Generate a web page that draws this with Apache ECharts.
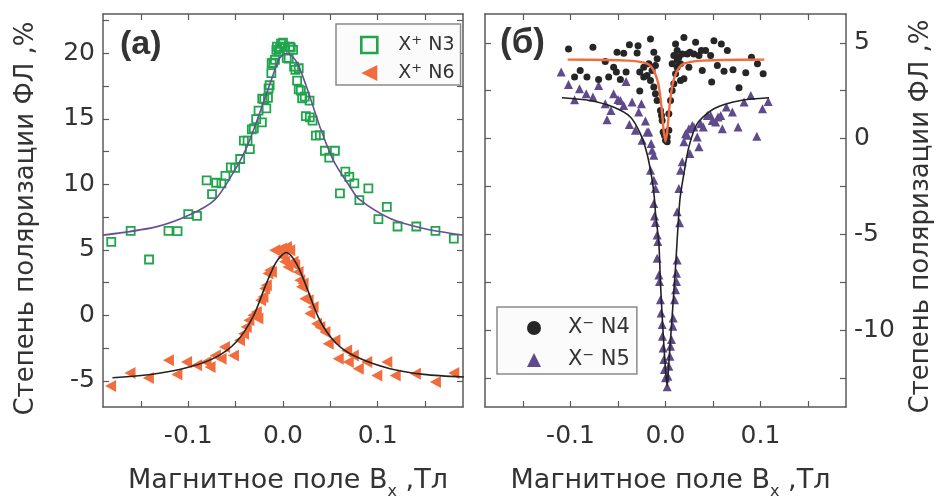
<!DOCTYPE html>
<html>
<head>
<meta charset="utf-8">
<script src="https://cdn.jsdelivr.net/npm/echarts@6/dist/echarts.min.js"></script>
<style>html,body{margin:0;padding:0;background:#fff}#c{width:937px;height:499px}</style>
</head>
<body>
<div id="c"></div>
<script>
// ---- tick values ----
const xTicks = [-0.15, -0.1, -0.05, 0, 0.05, 0.1, 0.15];
const xLabels = [-0.1, 0, 0.1];
const leftYTicks = [-5, -2.5, 0, 2.5, 5, 7.5, 10, 12.5, 15, 17.5, 20, 22.5];
const leftYLabels = [-5, 0, 5, 10, 15, 20];
const rightYTicks = [-12.5, -10, -7.5, -5, -2.5, 0, 2.5, 5];
const rightYLabels = [-10, -5, 0, 5];

// ---- panel (a): X+ N3 (squares) ----
const n3Points = [
  [-0.1813,5.60],[-0.1608,6.45],[-0.1414,4.26],[-0.1209,6.45],[-0.1113,6.42],[-0.1,7.72],[-0.0908,7.59],
  [-0.0806,10.30],[-0.0749,9.25],[-0.0706,10.12],[-0.065,10.07],[-0.0608,10.65],[-0.0551,11.29],[-0.0505,11.26],
  [-0.0452,11.93],[-0.0413,13.33],[-0.0374,13.33],[-0.035,12.69],[-0.0329,14.19],[-0.0308,14.27],[-0.0283,14.98],
  [-0.0258,15.62],[-0.0223,14.73],[-0.0219,16.54],[-0.0198,16.51],[-0.0176,15.80],[-0.0159,16.59],[-0.0152,17.33],
  [-0.0141,17.56],[-0.0123,18.48],[-0.012,19.24],[-0.0102,19.29],[-0.0085,19.50],[-0.007,20.26],[-0.0064,20.51],
  [-0.0046,20.13],[-0.0032,20.39],[-0.0021,20.74],[0.0,20.82],[0.0018,20.51],[0.0039,19.65],[0.006,19.60],
  [0.0071,20.51],[0.0082,20.44],[0.0106,20.26],[0.0117,18.98],[0.0131,18.73],[0.0166,18.86],[0.0149,17.91],
  [0.0166,17.25],[0.0188,17.15],[0.0202,16.57],[0.023,16.69],[0.028,16.38],[0.0241,15.21],[0.0283,15.11],
  [0.0312,14.86],[0.0347,13.71],[0.0389,13.76],[0.0442,12.56],[0.0488,12.03],[0.0548,12.56],[0.0601,9.30],
  [0.0658,10.96],[0.07,10.57],[0.0753,10.07],[0.0806,8.79],[0.0901,9.69],[0.1007,7.34],[0.1096,8.28],
  [0.1209,6.78],[0.1407,6.78],[0.1609,6.45],[0.1803,5.86]
];
const n3Fit = [
  [-0.19,6.12],[-0.134,6.75],[-0.099,7.65],[-0.0724,8.79],[-0.053,10.83],[-0.0388,12.74],[-0.0247,15.42],
  [-0.0123,17.97],[-0.0035,19.63],[0.0042,20.0],[0.0142,19.37],[0.0248,17.45],[0.0389,14.4],[0.053,11.85],
  [0.0707,9.81],[0.0806,8.84],[0.1131,7.39],[0.1485,6.63],[0.19,6.12]
];

// ---- panel (a): X+ N6 (left triangles) ----
const n6Points = [
  [-0.182,-5.40],[-0.1615,-4.41],[-0.1421,-4.79],[-0.1209,-3.44],[-0.112,-4.51],[-0.1018,-3.57],[-0.0912,-3.82],
  [-0.0812,-3.57],[-0.077,-3.95],[-0.0714,-3.06],[-0.0653,-3.31],[-0.0618,-2.42],[-0.0523,-3.06],[-0.0459,-1.91],
  [-0.0417,-1.40],[-0.0388,-0.89],[-0.036,-0.38],[-0.0318,0.0],[-0.0282,0.25],[-0.0265,-0.25],[-0.0236,1.15],
  [-0.0212,1.40],[-0.0194,2.04],[-0.0176,2.29],[-0.0159,3.19],[-0.0141,3.44],[-0.0123,3.31],[-0.0088,4.97],
  [-0.0053,4.97],[-0.0017,5.10],[0.0,4.46],[0.0018,4.08],[0.0036,5.22],[0.0053,3.69],[0.0071,4.97],
  [0.0106,4.08],[0.0124,3.82],[0.0159,3.31],[0.0177,2.68],[0.0195,2.17],[0.0212,2.42],[0.023,1.27],
  [0.0265,1.15],[0.0283,0.13],[0.0318,0.64],[0.0354,-0.64],[0.0389,-0.89],[0.0442,-1.27],[0.0477,-2.17],
  [0.0548,-1.91],[0.0583,-3.31],[0.0672,-2.68],[0.0689,-3.57],[0.0742,-3.06],[0.0795,-4.08],[0.0884,-3.57],
  [0.099,-4.59],[0.1096,-3.57],[0.1184,-4.59],[0.1397,-4.46],[0.1609,-5.10],[0.1803,-4.41]
];
const n6Fit = [
  [-0.18,-4.77],[-0.1343,-4.46],[-0.099,-3.95],[-0.0706,-3.19],[-0.0494,-2.04],[-0.0318,-0.13],[-0.0176,2.42],
  [-0.007,4.08],[0.0036,4.79],[0.0142,3.95],[0.0248,2.17],[0.0389,-0.38],[0.0566,-2.17],[0.0778,-3.19],
  [0.1131,-4.08],[0.1485,-4.51],[0.1909,-4.71]
];

// ---- panel (б): X- N4 (circles) ----
const n4Points = [
  [-0.1021,4.68],[-0.0764,4.76],[-0.051,4.50],[-0.044,4.45],[-0.038,4.89],[-0.0289,4.85],[-0.0299,4.47],
  [-0.0158,5.20],[-0.0123,4.50],[-0.0176,3.90],[-0.0141,3.55],[-0.0229,3.72],[-0.0271,3.47],[-0.0229,3.21],
  [-0.0898,3.55],[-0.0957,3.21],[-0.0827,3.21],[-0.0704,3.08],[-0.0634,4.02],[-0.0598,3.21],[-0.0546,3.72],
  [-0.0517,3.47],[-0.0475,3.08],[-0.0415,3.47],[-0.0271,2.48],[-0.0194,3.29],[-0.0158,3.03],[-0.0123,2.69],
  [-0.0106,2.34],[-0.0088,1.99],[-0.0053,1.47],[-0.0042,1.21],[-0.0035,0.95],[-0.0025,0.35],[-0.0011,0.17],
  [0.0,-0.09],[0.0018,-0.17],[0.0018,0.09],[0.0035,0.43],[0.0035,1.30],[0.0053,1.99],[0.007,2.51],[0.0088,2.86],
  [0.0106,3.38],[0.0123,3.72],[0.0158,3.90],[0.0141,4.24],[0.0123,4.59],[0.0106,4.94],[0.0194,5.28],
  [0.0229,4.42],[0.0257,4.50],[0.0299,4.42],[0.0317,5.02],[0.0352,4.33],[0.0377,4.59],[0.0422,4.59],
  [0.0475,4.33],[0.051,5.11],[0.0588,4.94],[0.0651,4.59],[0.0546,3.81],[0.0616,3.52],[0.0711,3.59],
  [0.0845,3.43],[0.0905,4.24],[0.1028,3.38],[0.0968,3.90],[0.0774,2.65],[0.0486,2.95],[0.0387,3.55],
  [0.0246,3.72],[0.0158,3.03],[0.0194,3.12],[0.007,3.90],[0.0088,4.33],[-0.0088,4.16],[-0.0106,3.81],
  [0.0123,4.07],[0.0176,4.42]
];
const n4Fit = [
  [-0.103,4.12],[-0.06,4.10],[-0.04,4.07],[-0.03,4.03],[-0.02,3.92],[-0.015,3.75],[-0.011,3.40],[-0.008,2.95],
  [-0.006,2.40],[-0.004,1.55],[-0.002,0.45],[0.0,-0.15],[0.002,0.45],[0.004,1.55],[0.006,2.40],[0.008,2.95],
  [0.011,3.40],[0.015,3.75],[0.02,3.92],[0.03,4.03],[0.04,4.07],[0.06,4.10],[0.104,4.12]
];

// ---- panel (б): X- N5 (up triangles) ----
const n5Points = [
  [-0.1098,3.47],[-0.1021,2.82],[-0.0957,2.03],[-0.0905,2.60],[-0.0834,2.34],[-0.0764,2.17],[-0.0704,2.77],
  [-0.0634,1.82],[-0.0616,0.99],[-0.0574,1.47],[-0.0546,2.34],[-0.05,2.04],[-0.0475,1.99],[-0.0415,2.98],
  [-0.044,1.73],[-0.038,0.74],[-0.0352,1.91],[-0.0317,0.43],[-0.0282,1.39],[-0.0253,1.82],[-0.0246,-0.09],
  [-0.0211,0.92],[-0.0194,0.35],[-0.0176,0.35],[-0.0151,-0.26],[-0.0141,-0.61],[-0.0123,-0.87],[-0.0158,-1.65],
  [-0.0123,-2.17],[-0.0106,-2.60],[-0.0123,-3.38],[-0.0116,-4.04],[-0.0106,-4.38],[-0.0088,-5.03],[-0.0081,-5.37],
  [-0.0088,-6.24],[-0.007,-7.11],[-0.0063,-7.45],[-0.0053,-8.40],[-0.0046,-9.10],[-0.0035,-9.70],[-0.0032,-10.31],
  [-0.0025,-10.92],[-0.0018,-11.52],[-0.0011,-12.04],[0.0,-12.47],[0.0018,-12.94],
  [0.0025,-12.39],[0.0035,-11.87],[0.0046,-11.35],[0.0053,-10.83],[0.0063,-10.48],[0.0077,-9.79],[0.0081,-9.36],
  [0.0095,-8.40],[0.0106,-7.89],[0.0116,-7.45],[0.0116,-7.02],[0.0123,-6.33],[0.0148,-4.39],[0.0123,-3.81],
  [0.0141,-2.60],[0.0158,-1.65],[0.0176,-1.21],[0.0194,-0.17],[0.0211,0.26],[0.0229,0.17],[0.0257,-0.78],
  [0.0246,0.52],[0.0282,0.69],[0.0299,0.61],[0.0334,0.09],[0.0352,-0.43],[0.037,0.78],[0.0398,0.61],
  [0.044,1.21],[0.0475,1.21],[0.0493,0.95],[0.0528,0.87],[0.0553,1.13],[0.0581,1.21],[0.0598,0.52],
  [0.0641,1.65],[0.0704,1.39],[0.0764,0.61],[0.0827,1.91],[0.0898,2.25],[0.0961,0.12],[0.1021,1.56],[0.1081,1.94]
];
const n5Fit = [
  [-0.109,2.13],[-0.08,1.99],[-0.055,1.65],[-0.037,1.13],[-0.0265,0.26],[-0.0195,-0.78],[-0.014,-2.17],
  [-0.0115,-3.21],[-0.0105,-3.9],[-0.007,-5.46],[-0.0053,-7.54],[-0.0025,-10.14],[0.0,-12.04],[0.0018,-12.9],
  [0.0035,-11.7],[0.007,-9.27],[0.0106,-6.67],[0.0151,-3.21],[0.0194,-1.82],[0.0246,-0.43],[0.0334,0.78],
  [0.051,1.56],[0.079,1.99],[0.109,2.13]
];

const FONT = 'DejaVu Sans';
const TXT = '#333';
const FRAME = '#5a5a5a';
const xName = 'Магнитное поле B{sub|x} ,Тл';
const yName = 'Степень поляризации ФЛ ,%';
const LEFT_TRI = 'path://M0,5L10,0L10,10Z';

const chart = echarts.init(document.getElementById('c'), null, {renderer: 'canvas'});

function xAxisPair(gi) {
  const base = {
    gridIndex: gi, type: 'value', min: -0.19, max: 0.19,
    splitLine: {show: false},
    axisLine: {show: true, onZero: false, lineStyle: {color: FRAME, width: 1.5}},
    axisTick: {show: true, inside: true, length: 6, customValues: xTicks, lineStyle: {color: FRAME, width: 1.2}}
  };
  return [
    Object.assign({}, base, {
      position: 'bottom',
      axisLabel: {customValues: xLabels, formatter: v => v.toFixed(1), fontFamily: FONT, fontSize: 25, color: TXT, margin: 17},
      name: xName, nameLocation: 'middle', nameGap: 55,
      nameTextStyle: {fontFamily: FONT, fontSize: 27, color: TXT, lineHeight: 38, padding: [0, 0, 0, 10],
        rich: {sub: {fontFamily: FONT, fontSize: 16, color: TXT, verticalAlign: 'bottom', padding: [22, 0, 0, 0]}}}
    }),
    Object.assign({}, base, {position: 'top', axisLabel: {show: false}})
  ];
}

function yAxisPair(gi, ticks, labels, min, max, labelSide) {
  const base = {
    gridIndex: gi, type: 'value', min: min, max: max,
    splitLine: {show: false},
    axisLine: {show: true, onZero: false, lineStyle: {color: FRAME, width: 1.5}},
    axisTick: {show: true, inside: true, length: 6, customValues: ticks, lineStyle: {color: FRAME, width: 1.2}}
  };
  const labeled = {
    axisLabel: {customValues: labels, formatter: v => String(v), fontFamily: FONT, fontSize: 25, color: TXT, margin: 8},
    name: yName, nameLocation: 'middle', nameRotate: 90,
    nameGap: labelSide === 'left' ? 64 : 62,
    nameTextStyle: {fontFamily: FONT, fontSize: 26, color: TXT,
      padding: labelSide === 'left' ? [0, 16, 0, 0] : [0, 12, 0, 0]}
  };
  const left = Object.assign({}, base, {position: 'left'}, labelSide === 'left' ? labeled : {axisLabel: {show: false}});
  const right = Object.assign({}, base, {position: 'right'}, labelSide === 'right' ? labeled : {axisLabel: {show: false}});
  return [left, right];
}

function legendFmt(name) {
  return name.replace(/^X([+−])/, 'X{sup|$1}');
}

const option = {
  backgroundColor: '#fff',
  animation: false,
  title: [
    {text: '(a)', left: 120, top: 28, padding: 0,
     textStyle: {fontFamily: 'Liberation Sans', fontWeight: 'bold', fontSize: 34, color: TXT}},
    {text: '(б)', left: 500, top: 26, padding: 0,
     textStyle: {fontFamily: 'Liberation Sans', fontWeight: 'bold', fontSize: 35, color: TXT}}
  ],
  grid: [
    {left: 103, right: 474, top: 14, bottom: 92, containLabel: false, outerBoundsMode: 'none'},
    {left: 485, right: 91, top: 14, bottom: 92, containLabel: false, outerBoundsMode: 'none'}
  ],
  xAxis: [].concat(xAxisPair(0), xAxisPair(1)),
  yAxis: [].concat(
    yAxisPair(0, leftYTicks, leftYLabels, -7, 23, 'left'),
    yAxisPair(1, rightYTicks, rightYLabels, -14, 6.5, 'right')
  ),
  legend: [
    {
      data: [
        {name: 'X+ N3', itemStyle: {borderWidth: 2.6}},
        {name: 'X+ N6', icon: LEFT_TRI}
      ],
      orient: 'vertical', left: 336, top: 24,
      itemWidth: 16, itemHeight: 16, itemGap: 6,
      padding: [10, 6, 1, 24],
      backgroundColor: '#fbfbfb', borderColor: '#8a8a8a', borderWidth: 1.5, borderRadius: 0,
      formatter: legendFmt,
      textStyle: {fontFamily: FONT, fontSize: 19, color: TXT, lineHeight: 22, padding: [0, 0, 0, 16],
        rich: {sup: {fontFamily: FONT, fontSize: 13, color: TXT, verticalAlign: 'top', lineHeight: 14}}}
    },
    {
      data: ['X− N4', 'X− N5'],
      orient: 'vertical', left: 497, top: 307,
      itemWidth: 14, itemHeight: 14, itemGap: 8,
      padding: [9, 7, 2, 30],
      backgroundColor: '#fbfbfb', borderColor: '#8a8a8a', borderWidth: 1.5, borderRadius: 0,
      formatter: legendFmt,
      textStyle: {fontFamily: FONT, fontSize: 21, color: TXT, lineHeight: 24, padding: [0, 0, 0, 22],
        rich: {sup: {fontFamily: FONT, fontSize: 14, color: TXT, verticalAlign: 'top', lineHeight: 15}}}
    }
  ],
  series: [
    {name: 'X+ N3', type: 'scatter', xAxisIndex: 0, yAxisIndex: 0, data: n3Points,
     symbol: 'rect', symbolSize: 8,
     itemStyle: {color: 'rgba(255,255,255,0)', borderColor: '#1fa54c', borderWidth: 1.8, opacity: 1}, z: 3},
    {name: 'X+ N6', type: 'scatter', xAxisIndex: 0, yAxisIndex: 0, data: n6Points,
     symbol: LEFT_TRI, symbolSize: [11, 12],
     itemStyle: {color: '#f26d3d', opacity: 1}, z: 2},
    {name: 'fitN3', type: 'line', xAxisIndex: 0, yAxisIndex: 0, data: n3Fit, smooth: 0.3, showSymbol: false,
     lineStyle: {color: '#6a4f96', width: 1.6}, z: 4},
    {name: 'fitN6', type: 'line', xAxisIndex: 0, yAxisIndex: 0, data: n6Fit, smooth: 0.3, showSymbol: false,
     lineStyle: {color: '#222', width: 1.6}, z: 4},

    {name: 'X− N4', type: 'scatter', xAxisIndex: 2, yAxisIndex: 2, data: n4Points,
     symbol: 'circle', symbolSize: 7, itemStyle: {color: '#262626', opacity: 1}, z: 3},
    {name: 'X− N5', type: 'scatter', xAxisIndex: 2, yAxisIndex: 2, data: n5Points,
     symbol: 'triangle', symbolSize: 9, itemStyle: {color: '#5f4b8b', opacity: 1}, z: 2},
    {name: 'fitN4', type: 'line', xAxisIndex: 2, yAxisIndex: 2, data: n4Fit, smooth: 0.25, showSymbol: false,
     lineStyle: {color: '#f26d3d', width: 2.4}, z: 4},
    {name: 'fitN5', type: 'line', xAxisIndex: 2, yAxisIndex: 2, data: n5Fit, smooth: 0.25, showSymbol: false,
     lineStyle: {color: '#222', width: 1.6}, z: 4}
  ]
};
chart.setOption(option);
</script>
</body>
</html>
